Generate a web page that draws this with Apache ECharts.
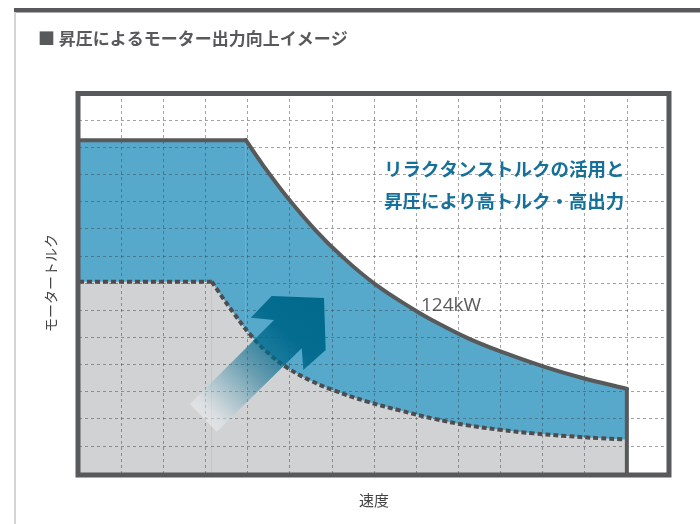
<!DOCTYPE html>
<html>
<head>
<meta charset="utf-8">
<script src="https://cdn.jsdelivr.net/npm/echarts@6/dist/echarts.min.js"></script>
<style>
  html, body { margin: 0; padding: 0; background: #ffffff; }
  #chart { width: 700px; height: 524px; }
</style>
</head>
<body>
<div id="chart"></div>
<script>
// Torque envelope after boosting the voltage (reluctance torque + boost)
var speedHigh  = [0, 3.96, 4.39, 4.95, 5.62, 6.21, 7.00, 8.03, 8.42, 9.21, 10.0, 11.03, 11.97, 12.92, 13.0];
var torqueHigh = [12.26, 12.26, 11.29, 10.14, 8.93, 8.02, 6.99, 5.94, 5.60, 4.98, 4.48, 3.92, 3.49, 3.13, 3.10];

// Torque envelope before boosting
var speedBase  = [0, 3.15, 3.36, 3.68, 4.08, 4.47, 4.95, 5.50, 6.05, 6.84, 7.63, 8.42, 9.21, 10.0, 10.79, 11.58, 12.37, 12.88, 13.0];
var torqueBase = [7.05, 7.05, 6.57, 5.87, 5.07, 4.45, 3.87, 3.40, 3.04, 2.63, 2.30, 2.00, 1.76, 1.59, 1.46, 1.36, 1.28, 1.24, 1.22];

// Grid divisions on both axes
var gridMax = 14;

var titleText = '■ 昇圧によるモーター出力向上イメージ';
var noteLines = ['リラクタンストルクの活用と', '昇圧により高トルク・高出力'];
var powerLabel = '124kW';
var xName = '速度';
var yName = 'モータートルク';

function pairs(xs, ys) {
  return xs.map(function (x, i) { return [x, ys[i]]; });
}

var highPts = pairs(speedHigh, torqueHigh);
var basePts = pairs(speedBase, torqueBase);
// constant-torque part (straight) and field-weakening part (curved)
var highFlat = highPts.slice(0, 2), highCurve = highPts.slice(1);
var baseFlat = basePts.slice(0, 2), baseCurve = basePts.slice(1);
// vertical edge at the maximum speed
var lastHigh = highPts[highPts.length - 1];
var highEdge = [lastHigh, [lastHigh[0], 0]];

var cjk = '"Noto Sans CJK JP", "Noto Sans", sans-serif';
var dark = '#58595b';
var blue = '#57a9cc';
var grey = '#d1d2d4';

var chart = echarts.init(document.getElementById('chart'), null, { renderer: 'canvas' });

var splitStyle = { show: true, lineStyle: { color: 'rgba(70,70,70,0.5)', width: 1, type: [3, 3] } };

function area(name, data, color, smooth) {
  return {
    name: name, type: 'line', data: data, z: 1, smooth: smooth ? 0.4 : false,
    symbol: 'none', silent: true,
    lineStyle: { width: 0 },
    areaStyle: { color: color, opacity: 1 }
  };
}
function outline(name, data, style, smooth, z) {
  return {
    name: name, type: 'line', data: data, z: z, smooth: smooth ? 0.4 : false,
    symbol: 'none', silent: true, lineStyle: style
  };
}

var solidStyle = { color: dark, width: 4, cap: 'round', join: 'round' };
var dottedStyle = { color: '#4d4d4f', width: 4, type: [5, 3], cap: 'butt' };

chart.setOption({
  animation: false,
  backgroundColor: '#ffffff',
  title: {
    text: titleText,
    left: 33,
    top: 25,
    textStyle: { fontFamily: cjk, fontSize: 17, fontWeight: 'bold', color: dark }
  },
  grid: { left: 79, top: 93, width: 590, height: 380, containLabel: false },
  xAxis: {
    type: 'value', min: 0, max: gridMax, interval: 1, z: 2,
    name: xName, nameLocation: 'middle', nameGap: 20,
    nameTextStyle: { fontFamily: cjk, fontSize: 15, color: '#444' },
    axisLine: { show: false }, axisTick: { show: false }, axisLabel: { show: false },
    splitLine: splitStyle
  },
  yAxis: {
    type: 'value', min: 0, max: gridMax, interval: 1, z: 2,
    name: yName, nameLocation: 'middle', nameGap: 21, nameRotate: 90,
    nameTextStyle: { fontFamily: cjk, fontSize: 14, color: '#444' },
    axisLine: { show: false }, axisTick: { show: false }, axisLabel: { show: false },
    splitLine: splitStyle
  },
  series: [
    area('boostFlatArea', highFlat, blue, false),
    area('boostCurveArea', highCurve, blue, true),
    area('baseFlatArea', baseFlat, grey, false),
    area('baseCurveArea', baseCurve, grey, true),
    outline('baseFlatLine', baseFlat, dottedStyle, false, 3),
    outline('baseCurveLine', baseCurve, dottedStyle, true, 3),
    outline('boostFlatLine', highFlat, solidStyle, false, 4),
    outline('boostCurveLine', highCurve, solidStyle, true, 4),
    outline('boostEdgeLine', highEdge, solidStyle, false, 4)
  ],
  graphic: [
    // header rule and side rule
    { type: 'rect', shape: { x: 14, y: 8, width: 686, height: 4.5 }, style: { fill: dark }, z: 10 },
    { type: 'rect', shape: { x: 14, y: 12, width: 2, height: 512 }, style: { fill: '#d4d4d4' }, z: 10 },
    // plot frame
    {
      type: 'rect', z: 20, silent: true,
      shape: { x: 78, y: 93.5, width: 591, height: 381.5 },
      style: { fill: 'none', stroke: dark, lineWidth: 5 }
    },
    // arrow showing the rise in output
    {
      type: 'polygon', z: 5, silent: true,
      shape: {
        points: [
          [190, 404], [274, 320], [250.7, 317.7], [271.7, 296], [324, 298],
          [325.7, 350], [303.3, 370], [301.7, 348.3], [216.7, 431.7]
        ]
      },
      style: {
        fill: new echarts.graphic.LinearGradient(0, 1, 1, 0, [
          { offset: 0, color: 'rgba(255,255,255,0.5)' },
          { offset: 0.15, color: 'rgba(235,240,243,0.45)' },
          { offset: 0.45, color: 'rgba(0,105,140,0.5)' },
          { offset: 0.72, color: 'rgba(0,105,140,0.95)' },
          { offset: 1, color: '#006a8c' }
        ])
      }
    },
    {
      type: 'text', z: 6, silent: true,
      style: {
        x: 384, y: 169, text: noteLines[0], verticalAlign: 'middle',
        fontFamily: cjk, fontSize: 18.5, fontWeight: 'bold', fill: '#15709a'
      }
    },
    {
      type: 'text', z: 6, silent: true,
      style: {
        x: 384, y: 201, text: noteLines[1], verticalAlign: 'middle',
        fontFamily: cjk, fontSize: 18.5, fontWeight: 'bold', fill: '#15709a'
      }
    },
    {
      type: 'text', z: 6, silent: true,
      style: {
        x: 421, y: 306, text: powerLabel, verticalAlign: 'middle',
        fontFamily: '"Open Sans", "Noto Sans", sans-serif', fontSize: 19, fill: dark
      }
    }
  ]
});
</script>
</body>
</html>
